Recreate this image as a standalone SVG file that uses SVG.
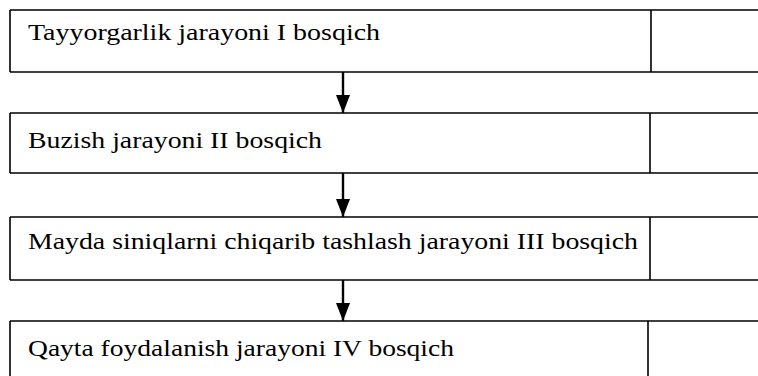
<svg xmlns="http://www.w3.org/2000/svg" width="758" height="376" viewBox="0 0 758 376">
<defs>
<style>
.ln{stroke:#000;stroke-width:1.6;fill:none}
.t{font-family:"Liberation Serif","Times New Roman",serif;font-size:23px;fill:#000}
.ar{stroke:#000;stroke-width:2.4;fill:none}
</style>
<marker id="ah" markerWidth="18" markerHeight="14" refX="18" refY="7" orient="auto" markerUnits="userSpaceOnUse" viewBox="0 0 18 14">
<path d="M0,0 L18,7 L0,14 Z" fill="#000"/>
</marker>
</defs>
<rect width="758" height="376" fill="#fff"/>
<g id="node1">
<path class="ln" d="M10,10 H758 M10,72 H758 M10,10 V72 M651,10 V72"/>
<text class="t" x="28" y="40" textLength="352" lengthAdjust="spacingAndGlyphs">Tayyorgarlik jarayoni I bosqich</text>
</g>
<g id="node2">
<path class="ln" d="M10,113 H758 M10,173 H758 M10,113 V173 M650,113 V173"/>
<text class="t" x="28" y="148" textLength="294" lengthAdjust="spacingAndGlyphs">Buzish jarayoni II bosqich</text>
</g>
<g id="node3">
<path class="ln" d="M10,217 H758 M10,280 H758 M10,217 V280 M650,217 V280"/>
<text class="t" x="28" y="249" textLength="610" lengthAdjust="spacingAndGlyphs">Mayda siniqlarni chiqarib tashlash jarayoni III bosqich</text>
</g>
<g id="node4">
<path class="ln" d="M10,321 H758 M10,321 V376 M648,321 V376"/>
<text class="t" x="28" y="356" textLength="426" lengthAdjust="spacingAndGlyphs">Qayta foydalanish jarayoni IV bosqich</text>
</g>
<g id="connectors">
<line class="ar" x1="343" y1="72" x2="343" y2="113" marker-end="url(#ah)"/>
<line class="ar" x1="343" y1="173" x2="343" y2="217" marker-end="url(#ah)"/>
<line class="ar" x1="343" y1="280" x2="343" y2="321" marker-end="url(#ah)"/>
</g>
</svg>
